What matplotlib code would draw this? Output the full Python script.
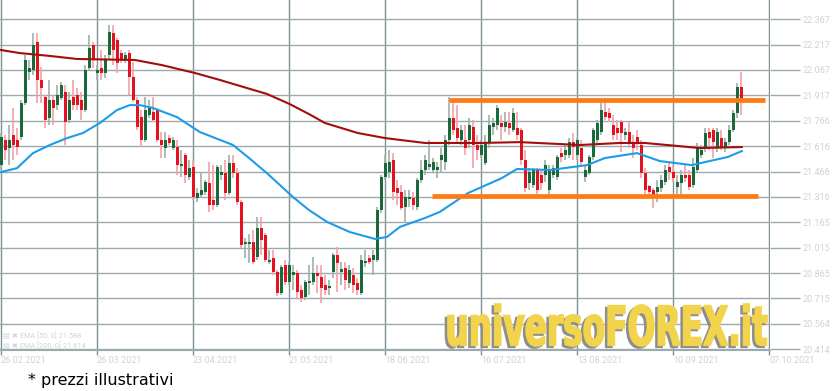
import matplotlib
matplotlib.use("Agg")
import matplotlib.pyplot as plt
import numpy as np
from matplotlib.textpath import TextPath
from matplotlib.patches import PathPatch
from matplotlib.font_manager import FontProperties
from matplotlib import transforms

# ---- data ----
opens = [
    21.504, 21.652, 21.605, 21.682, 21.652, 21.670, 21.871, 22.055, 22.067, 22.232,
    22.008, 21.907, 21.782, 21.889, 21.859, 21.901, 21.937, 21.771, 21.907, 21.919,
    21.889, 21.830, 22.079, 22.215, 22.049, 22.079, 22.049, 22.156, 22.286, 22.244,
    22.167, 22.126, 22.167, 22.025, 21.889, 21.788, 21.652, 21.800, 21.818, 21.830,
    21.652, 21.605, 21.664, 21.605, 21.611, 21.498, 21.564, 21.432, 21.492, 21.309,
    21.327, 21.345, 21.397, 21.298, 21.268, 21.444, 21.456, 21.338, 21.516, 21.456,
    21.286, 21.038, 21.038, 21.050, 20.961, 21.132, 21.091, 20.931, 20.955, 20.872,
    20.748, 20.913, 20.813, 20.854, 20.866, 20.766, 20.724, 20.807, 20.813, 20.866,
    20.842, 20.795, 20.777, 20.872, 20.972, 20.872, 20.896, 20.807, 20.854, 20.807,
    20.748, 20.925, 20.955, 20.943, 20.943, 21.239, 21.432, 21.462, 21.534, 21.368,
    21.345, 21.257, 21.303, 21.309, 21.257, 21.415, 21.475, 21.492, 21.475, 21.475,
    21.534, 21.522, 21.652, 21.782, 21.723, 21.652, 21.652, 21.652, 21.729, 21.623,
    21.564, 21.516, 21.640, 21.729, 21.741, 21.753, 21.729, 21.753, 21.711, 21.723,
    21.711, 21.534, 21.397, 21.386, 21.475, 21.444, 21.444, 21.356, 21.444, 21.432,
    21.575, 21.564, 21.564, 21.640, 21.564, 21.605, 21.432, 21.456, 21.552, 21.652,
    21.700, 21.818, 21.812, 21.741, 21.723, 21.759, 21.682, 21.700, 21.635, 21.670,
    21.623, 21.456, 21.383, 21.356, 21.345, 21.368, 21.403, 21.492, 21.462, 21.374,
    21.397, 21.444, 21.444, 21.386, 21.475, 21.564, 21.605, 21.700, 21.711, 21.605,
    21.664, 21.605, 21.640, 21.711, 21.812, 21.966,
]
closes = [
    21.670, 21.593, 21.652, 21.623, 21.611, 21.871, 22.126, 22.079, 22.215, 22.008,
    21.960, 21.771, 21.889, 21.842, 21.919, 21.978, 21.759, 21.889, 21.859, 21.859,
    21.830, 22.067, 22.197, 22.126, 22.067, 22.049, 22.126, 22.292, 22.185, 22.108,
    22.126, 22.156, 22.025, 21.889, 21.729, 21.652, 21.830, 21.848, 21.771, 21.652,
    21.623, 21.652, 21.635, 21.652, 21.504, 21.510, 21.444, 21.486, 21.315, 21.338,
    21.356, 21.403, 21.268, 21.268, 21.492, 21.462, 21.338, 21.516, 21.456, 21.286,
    21.032, 21.050, 21.050, 20.931, 21.132, 21.061, 20.943, 20.943, 20.872, 20.748,
    20.902, 20.813, 20.913, 20.872, 20.754, 20.718, 20.813, 20.819, 20.866, 20.848,
    20.777, 20.766, 20.789, 20.972, 20.925, 20.890, 20.825, 20.884, 20.795, 20.766,
    20.943, 20.937, 20.931, 20.972, 21.239, 21.432, 21.516, 21.522, 21.345, 21.338,
    21.251, 21.315, 21.315, 21.268, 21.415, 21.475, 21.534, 21.510, 21.522, 21.492,
    21.564, 21.652, 21.782, 21.711, 21.664, 21.711, 21.605, 21.741, 21.623, 21.593,
    21.623, 21.635, 21.741, 21.753, 21.842, 21.729, 21.759, 21.723, 21.812, 21.682,
    21.534, 21.368, 21.462, 21.475, 21.356, 21.397, 21.504, 21.475, 21.486, 21.552,
    21.552, 21.593, 21.640, 21.611, 21.652, 21.522, 21.475, 21.552, 21.711, 21.753,
    21.830, 21.788, 21.782, 21.682, 21.694, 21.694, 21.700, 21.635, 21.605, 21.635,
    21.456, 21.356, 21.345, 21.327, 21.374, 21.415, 21.475, 21.462, 21.427, 21.403,
    21.444, 21.427, 21.374, 21.492, 21.611, 21.593, 21.694, 21.664, 21.640, 21.700,
    21.611, 21.640, 21.711, 21.812, 21.966, 21.877,
]
highs = [
    21.694, 21.682, 21.741, 21.842, 21.723, 21.889, 22.156, 22.126, 22.286, 22.286,
    22.085, 21.919, 22.008, 21.919, 21.978, 21.996, 21.978, 21.937, 22.008, 21.960,
    21.937, 22.096, 22.274, 22.232, 22.096, 22.185, 22.156, 22.333, 22.333, 22.256,
    22.185, 22.173, 22.185, 22.114, 21.907, 21.830, 21.907, 21.889, 21.907, 21.842,
    21.700, 21.700, 21.682, 21.670, 21.652, 21.593, 21.575, 21.534, 21.534, 21.368,
    21.462, 21.415, 21.522, 21.504, 21.504, 21.504, 21.534, 21.564, 21.564, 21.486,
    21.298, 21.073, 21.097, 21.120, 21.197, 21.197, 21.103, 21.002, 21.002, 20.884,
    20.913, 20.943, 20.931, 20.913, 20.884, 20.795, 20.825, 20.913, 20.961, 20.913,
    20.913, 20.854, 20.825, 20.984, 21.020, 20.931, 20.931, 20.913, 20.896, 20.836,
    20.972, 21.002, 20.972, 21.002, 21.257, 21.444, 21.564, 21.593, 21.575, 21.415,
    21.386, 21.356, 21.356, 21.345, 21.427, 21.534, 21.564, 21.652, 21.546, 21.522,
    21.605, 21.682, 21.907, 21.877, 21.859, 21.741, 21.741, 21.782, 21.771, 21.682,
    21.652, 21.682, 21.800, 21.782, 21.859, 21.800, 21.818, 21.818, 21.842, 21.818,
    21.723, 21.593, 21.486, 21.486, 21.486, 21.475, 21.534, 21.504, 21.504, 21.564,
    21.605, 21.623, 21.664, 21.694, 21.664, 21.652, 21.504, 21.564, 21.723, 21.771,
    21.871, 21.901, 21.842, 21.800, 21.771, 21.771, 21.723, 21.759, 21.682, 21.711,
    21.652, 21.486, 21.386, 21.368, 21.415, 21.444, 21.504, 21.516, 21.504, 21.444,
    21.475, 21.504, 21.475, 21.546, 21.635, 21.623, 21.723, 21.723, 21.723, 21.723,
    21.711, 21.664, 21.741, 21.830, 21.990, 22.055,
]
lows = [
    21.475, 21.534, 21.504, 21.534, 21.564, 21.652, 21.859, 22.008, 22.037, 21.871,
    21.871, 21.723, 21.741, 21.741, 21.830, 21.889, 21.623, 21.753, 21.830, 21.830,
    21.771, 21.818, 22.067, 22.079, 22.008, 22.008, 22.019, 22.126, 22.096, 22.049,
    22.108, 22.108, 21.919, 21.877, 21.711, 21.611, 21.640, 21.782, 21.759, 21.640,
    21.546, 21.546, 21.623, 21.593, 21.444, 21.432, 21.397, 21.415, 21.298, 21.286,
    21.309, 21.327, 21.227, 21.239, 21.257, 21.415, 21.298, 21.327, 21.427, 21.268,
    21.014, 20.955, 20.925, 20.919, 20.943, 20.972, 20.931, 20.919, 20.854, 20.730,
    20.736, 20.795, 20.795, 20.766, 20.718, 20.694, 20.706, 20.736, 20.795, 20.748,
    20.688, 20.736, 20.736, 20.836, 20.754, 20.795, 20.766, 20.777, 20.748, 20.736,
    20.736, 20.902, 20.919, 20.854, 20.931, 21.221, 21.415, 21.427, 21.298, 21.268,
    21.239, 21.168, 21.257, 21.239, 21.239, 21.397, 21.444, 21.475, 21.462, 21.427,
    21.462, 21.475, 21.623, 21.682, 21.640, 21.623, 21.564, 21.605, 21.486, 21.534,
    21.546, 21.504, 21.605, 21.682, 21.711, 21.652, 21.700, 21.682, 21.700, 21.652,
    21.504, 21.345, 21.356, 21.368, 21.327, 21.356, 21.403, 21.327, 21.427, 21.415,
    21.522, 21.534, 21.546, 21.534, 21.534, 21.504, 21.403, 21.444, 21.534, 21.635,
    21.682, 21.771, 21.759, 21.652, 21.652, 21.581, 21.652, 21.605, 21.546, 21.593,
    21.427, 21.327, 21.315, 21.251, 21.286, 21.345, 21.386, 21.415, 21.403, 21.327,
    21.327, 21.403, 21.356, 21.368, 21.462, 21.546, 21.581, 21.593, 21.546, 21.581,
    21.593, 21.581, 21.623, 21.700, 21.782, 21.800,
]

# moving averages, sampled at candle positions
ema50_idx = [0, 4, 8, 12.2, 16.5, 20.5, 24.7, 29, 32.2, 34.7, 38, 44, 49.7, 58, 62,
             66.5, 73, 77, 81.5, 87.2, 93.5, 96.5, 99.7, 106, 109.7, 116.7, 125.2,
             129, 137.2, 146.5, 151, 159, 164.7, 172.7, 176, 181.7, 185.2]
ema50_val = [21.463, 21.486, 21.575, 21.623, 21.664, 21.694, 21.753, 21.830, 21.859,
             21.859, 21.842, 21.788, 21.700, 21.623, 21.546, 21.456, 21.315, 21.238,
             21.168, 21.108, 21.067, 21.079, 21.138, 21.191, 21.227, 21.338, 21.427,
             21.481, 21.475, 21.504, 21.546, 21.575, 21.528, 21.504, 21.522, 21.552,
             21.587]
ema200_idx = [0, 4.7, 12.2, 19, 33.5, 40.2, 48.5, 54.7, 62.2, 66.5, 72.2, 77, 81,
              89.2, 96, 106, 119.7, 129.7, 144.7, 154.7, 161, 174.7, 185.2]
ema200_val = [22.185, 22.167, 22.150, 22.132, 22.126, 22.096, 22.049, 22.008, 21.955,
              21.925, 21.865, 21.806, 21.753, 21.694, 21.664, 21.635, 21.635, 21.640,
              21.623, 21.635, 21.635, 21.605, 21.611]

# drawn support / resistance
resist_price, resist_span = 21.889, (112, 191)
support_price, support_span = 21.321, (107.7, 189.2)

price_ticks = [22.367, 22.217, 22.067, 21.917, 21.766, 21.616, 21.466, 21.316,
               21.165, 21.015, 20.865, 20.715, 20.564, 20.414]
date_idx = [0, 24, 48, 72, 96, 120, 144, 168, 192]
date_labels = ["26.02.2021", "26.03.2021", "23.04.2021", "21.05.2021", "18.06.2021",
               "16.07.2021", "13.08.2021", "10.09.2021", "07.10.2021"]

# ---- figure ----
W, H = 840, 391
fig = plt.figure(figsize=(W / 100, H / 100), dpi=100)
fig.patch.set_facecolor("white")
ax = fig.add_axes([0, 41 / H, 770 / W, 350 / H])
ax.set_xlim(-0.25, 192.25)
ax.set_ylim(20.410, 22.481)

grid_h = "#9ea9ae"
grid_v = "#7f9097"
label_c = "#d2d2d2"

ax.set_axisbelow(True)
ax.set_yticks(price_ticks)
ax.set_yticklabels([f"{p:.3f}" for p in price_ticks])
ax.yaxis.tick_right()
ax.tick_params(axis="y", length=21.6, width=1, color=grid_h, pad=2,
               labelsize=6.5, labelcolor=label_c)
ax.set_xticks(date_idx)
ax.set_xticklabels(date_labels)
ax.tick_params(axis="x", length=3.5, width=1, color=grid_v, pad=1,
               labelsize=6.5, labelcolor=label_c)
for lbl in ax.get_xticklabels():
    lbl.set_horizontalalignment("left")
for lbl in ax.get_yticklabels() + ax.get_xticklabels():
    lbl.set_family(["Roboto", "DejaVu Sans"])
ax.grid(axis="y", color=grid_h, lw=1)
ax.grid(axis="x", color=grid_v, lw=1)
for s in ("top", "left", "right"):
    ax.spines[s].set_visible(False)
ax.spines["bottom"].set_color(grid_h)

# candles
o = np.array(opens)
c = np.array(closes)
hi = np.array(highs)
lo = np.array(lows)
x = np.arange(len(c))
up = c >= o
ax.vlines(x[up], lo[up], hi[up], color="#9fb0a6", lw=1.2, zorder=2)
ax.vlines(x[~up], lo[~up], hi[~up], color="#f3a1a7", lw=1.2, zorder=2)
body = np.maximum(np.abs(c - o), 0.006)
ax.bar(x, body, bottom=np.minimum(o, c), width=0.75,
       color=np.where(up, "#19693a", "#e3121e"), zorder=3)

# moving averages
ax.plot(ema200_idx, ema200_val, color="#a30d0d", lw=1.5, zorder=4,
        solid_joinstyle="round")
ax.plot(ema50_idx, ema50_val, color="#1e9ce8", lw=1.5, zorder=4,
        solid_joinstyle="round")

# hand-drawn channel
ax.hlines([resist_price, support_price], [resist_span[0], support_span[0]],
          [resist_span[1], support_span[1]], color="#ff7a12", lw=3.4, zorder=5,
          clip_on=False)

# indicator legend
fig.text(3 / W, 1 - 336 / H, "▤ ✖ EMA [50, 0] 21.588", fontsize=5.3, color="#d4d4d4",
         va="center", family=["Roboto", "DejaVu Sans"])
fig.text(3 / W, 1 - 346 / H, "▤ ✖ EMA [200, 0] 21.614", fontsize=5.3, color="#d4d4d4",
         va="center", family=["Roboto", "DejaVu Sans"])

# watermark
tp = TextPath((0, 0), "universoFOREX.it", size=1,
              prop=FontProperties(family=["Liberation Sans Narrow", "DejaVu Sans"], weight="bold"))
bb = tp.get_extents()
sx = (319 / W) / bb.width
sy = (42 / H) / bb.height
for dx, dy, col in ((-2.5, -2, "#8e8e8e"), (0, 0, "#f2d44c")):
    tr = (transforms.Affine2D().translate(-bb.x0, -bb.y0).scale(sx, sy)
          .translate((448 + dx) / W, 1 - (346 - dy) / H) + fig.transFigure)
    fig.add_artist(PathPatch(tp, transform=tr, facecolor=col, edgecolor=col,
                             lw=1.2, zorder=10))

fig.text(28 / W, 1 - 381 / H, "* prezzi illustrativi", fontsize=11.5, color="black",
         va="center")

fig.savefig("out.png", dpi=100)
